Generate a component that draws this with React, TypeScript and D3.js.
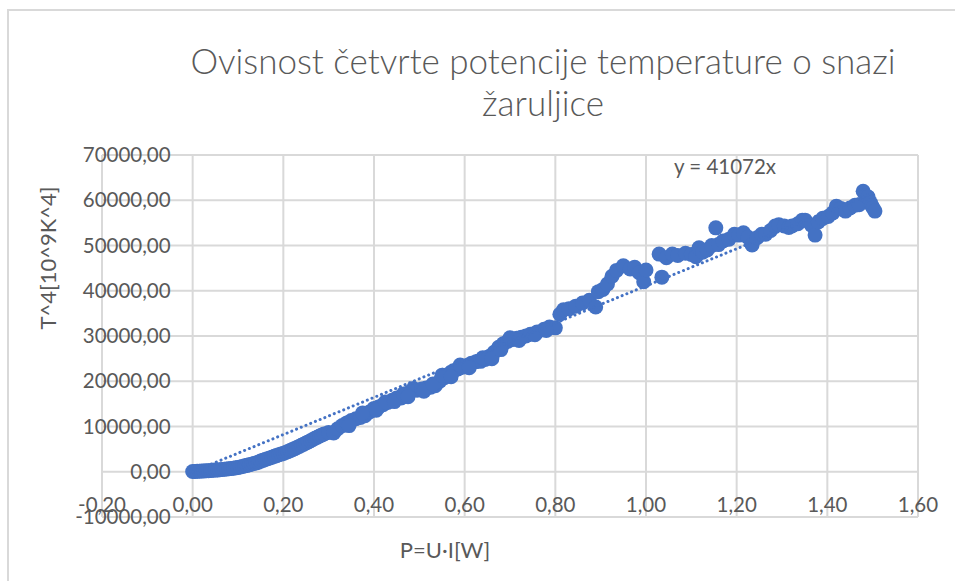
import React, { useEffect, useRef } from 'react';
import * as d3 from 'd3';

// P = U*I in W
const powerW = [
  0.000, 0.005, 0.010, 0.015, 0.020, 0.025, 0.030, 0.035, 0.040, 0.045,
  0.050, 0.055, 0.060, 0.065, 0.070, 0.075, 0.080, 0.085, 0.090, 0.095,
  0.100, 0.105, 0.110, 0.115, 0.120, 0.125, 0.130, 0.135, 0.140, 0.145,
  0.150, 0.155, 0.160, 0.165, 0.170, 0.175, 0.180, 0.185, 0.190, 0.195,
  0.200, 0.205, 0.210, 0.215, 0.220, 0.225, 0.230, 0.235, 0.240, 0.245,
  0.250, 0.255, 0.260, 0.265, 0.270, 0.275, 0.280, 0.285, 0.290, 0.300,
  0.311, 0.320, 0.330, 0.340, 0.350, 0.360, 0.370, 0.380, 0.390, 0.400,
  0.410, 0.420, 0.430, 0.440, 0.450, 0.460, 0.470, 0.480, 0.487, 0.495,
  0.505, 0.515, 0.525, 0.535, 0.545, 0.555, 0.565, 0.575, 0.585, 0.595,
  0.605, 0.615, 0.625, 0.635, 0.645, 0.655, 0.665, 0.675, 0.685, 0.695,
  0.705, 0.715, 0.725, 0.735, 0.745, 0.760, 0.775, 0.787, 0.800, 0.810,
  0.818, 0.830, 0.845, 0.860, 0.875, 0.889, 0.895, 0.905, 0.915, 0.925,
  0.935, 0.950, 0.965, 0.975, 0.985, 0.995, 1.000, 1.029, 1.035, 1.045,
  1.058, 1.070, 1.087, 1.100, 1.110, 1.117, 1.125, 1.135, 1.145, 1.154,
  1.160, 1.170, 1.183, 1.195, 1.205, 1.215, 1.225, 1.234, 1.245, 1.255,
  1.264, 1.275, 1.285, 1.293, 1.305, 1.315, 1.322, 1.335, 1.345, 1.351,
  1.365, 1.373, 1.380, 1.390, 1.402, 1.412, 1.420, 1.430, 1.440, 1.450,
  1.461, 1.470, 1.479, 1.485, 1.490, 1.495, 1.498, 1.501, 1.505,
  0.345, 0.375, 0.405, 0.425, 0.445, 0.465, 0.475, 0.510, 0.530, 0.550,
  0.570, 0.590, 0.610, 0.640, 0.660, 0.680, 0.700, 0.720, 0.755, 0.780
];

// T^4 in 10^9 K^4
const tempPow4 = [
  60, 80, 100, 125, 150, 180, 210, 245, 280, 320,
  360, 405, 450, 500, 550, 605, 660, 720, 790, 860,
  960, 1070, 1180, 1300, 1420, 1550, 1680, 1820, 1960, 2110,
  2350, 2520, 2700, 2870, 3050, 3220, 3400, 3570, 3750, 3900,
  4050, 4250, 4450, 4680, 4900, 5120, 5350, 5600, 5850, 6100,
  6350, 6600, 6850, 7120, 7400, 7650, 7900, 8130, 8350, 8700,
  8550, 9500, 10200, 10800, 11300, 11700, 12000, 12400, 13200, 14000,
  14300, 14800, 15300, 15800, 16300, 16300, 16900, 17700, 18400, 18000,
  18300, 18500, 18700, 19000, 20000, 20800, 21600, 22300, 22700, 23100,
  23500, 24000, 24300, 24400, 24800, 25500, 26400, 27500, 28300, 28800,
  29200, 29500, 29700, 30000, 30400, 30900, 31500, 32000, 31800, 34800,
  35800, 36000, 36600, 37300, 37900, 36400, 39800, 40300, 41500, 43200,
  44500, 45500, 44800, 45200, 44000, 42000, 44600, 48100, 43000, 47300,
  48100, 47800, 48300, 48000, 47500, 49500, 48500, 49000, 50000, 53900,
  50200, 51000, 51400, 52500, 52300, 52800, 51800, 50100, 51700, 52500,
  52500, 53300, 54300, 54600, 54300, 54000, 54300, 54800, 55600, 55600,
  54500, 52300, 55200, 56000, 56400, 57200, 58700, 58200, 57600, 58300,
  58900, 59000, 62000, 61000, 60700, 59500, 58800, 58300, 57600,
  10200, 13000, 13600, 15400, 15500, 17200, 16600, 17800, 19400, 21300,
  21000, 23600, 23000, 25200, 25000, 27000, 29600, 29000, 30300, 31200
];

const xTicks = [-0.2, 0, 0.2, 0.4, 0.6, 0.8, 1.0, 1.2, 1.4, 1.6];
const yTicks = [-10000, 0, 10000, 20000, 30000, 40000, 50000, 60000, 70000];
const trendSlope = 41072;
const trendRange = [0, 1.505];

const titleLines = ['Ovisnost četvrte potencije temperature o snazi', 'žaruljice'];
const xTitle = 'P=U·I[W]';
const yTitle = 'T^4[10^9K^4]';
const trendLabel = 'y = 41072x';

const W = 955;
const H = 581;
const BLUE = '#4472C4';
const GRID = '#d9d9d9';
const TXT = '#595959';
const FONT = 'Lato, "Open Sans", sans-serif';

const fmt = (v: number, digits: number) => v.toFixed(digits).replace('.', ',');

export default function App() {
  const ref = useRef<SVGSVGElement>(null);

  useEffect(() => {
    const svg = d3.select(ref.current);
    svg.selectAll('*').remove();

    const x = d3.scaleLinear().domain([-0.2, 1.6]).range([102, 918]);
    const y = d3.scaleLinear().domain([-10000, 70000]).range([517, 155]);

    svg.append('rect').attr('width', W).attr('height', H).attr('fill', 'white');

    // chart frame (only top and left visible)
    svg.append('path')
      .attr('d', `M8,${H} L8,10 L${W},10`)
      .attr('fill', 'none')
      .attr('stroke', GRID)
      .attr('stroke-width', 2);

    // gridlines
    svg.append('g').selectAll('line').data(yTicks).join('line')
      .attr('x1', x(-0.2)).attr('x2', x(1.6))
      .attr('y1', d => y(d)).attr('y2', d => y(d))
      .attr('stroke', GRID).attr('stroke-width', 2);
    svg.append('g').selectAll('line').data(xTicks).join('line')
      .attr('x1', d => x(d)).attr('x2', d => x(d))
      .attr('y1', y(-10000)).attr('y2', y(70000))
      .attr('stroke', GRID).attr('stroke-width', 2);

    // tick labels, placed next to the axes crossing at 0
    svg.append('g')
      .attr('font-family', FONT).attr('font-size', 20.5).attr('fill', TXT)
      .attr('text-anchor', 'end')
      .selectAll('text').data(yTicks).join('text')
      .attr('x', x(0) - 22)
      .attr('y', d => y(d))
      .attr('dy', '0.35em')
      .text(d => fmt(d, 2));
    svg.append('g')
      .attr('font-family', FONT).attr('font-size', 20.5).attr('fill', TXT)
      .attr('text-anchor', 'middle')
      .selectAll('text').data(xTicks).join('text')
      .attr('x', d => x(d))
      .attr('y', y(0) + 33)
      .attr('dy', '0.35em')
      .text(d => fmt(d, 2));

    // markers
    const pts = powerW.map((p, i) => [p, tempPow4[i]]);
    svg.append('g').selectAll('circle').data(pts).join('circle')
      .attr('cx', d => x(d[0]))
      .attr('cy', d => y(d[1]))
      .attr('r', 7.5)
      .attr('fill', BLUE);

    // linear trendline through origin
    svg.append('line')
      .attr('x1', x(trendRange[0])).attr('y1', y(trendSlope * trendRange[0]))
      .attr('x2', x(trendRange[1])).attr('y2', y(trendSlope * trendRange[1]))
      .attr('stroke', BLUE).attr('stroke-width', 3)
      .attr('stroke-linecap', 'round')
      .attr('stroke-dasharray', '0.1 5');

    svg.append('text')
      .attr('x', 725).attr('y', 167).attr('dy', '0.35em')
      .attr('text-anchor', 'middle')
      .attr('font-family', FONT).attr('font-size', 20.5).attr('fill', TXT)
      .text(trendLabel);

    // titles
    svg.append('g')
      .attr('font-family', FONT).attr('font-weight', 300).attr('font-size', 35).attr('fill', TXT)
      .attr('text-anchor', 'middle')
      .selectAll('text').data(titleLines).join('text')
      .attr('x', 543)
      .attr('y', (d, i) => 74 + i * 42)
      .text(d => d);

    svg.append('text')
      .attr('x', 445).attr('y', 558)
      .attr('text-anchor', 'middle')
      .attr('font-family', FONT).attr('font-size', 22).attr('fill', TXT)
      .text(xTitle);

    svg.append('text')
      .attr('transform', `translate(48,258) rotate(-90)`)
      .attr('dy', '0.35em')
      .attr('text-anchor', 'middle')
      .attr('font-family', FONT).attr('font-size', 22).attr('fill', TXT)
      .text(yTitle);
  }, []);

  return (
    <svg ref={ref} width={W} height={H} style={{ position: 'absolute', left: 0, top: 0 }} />
  );
}
